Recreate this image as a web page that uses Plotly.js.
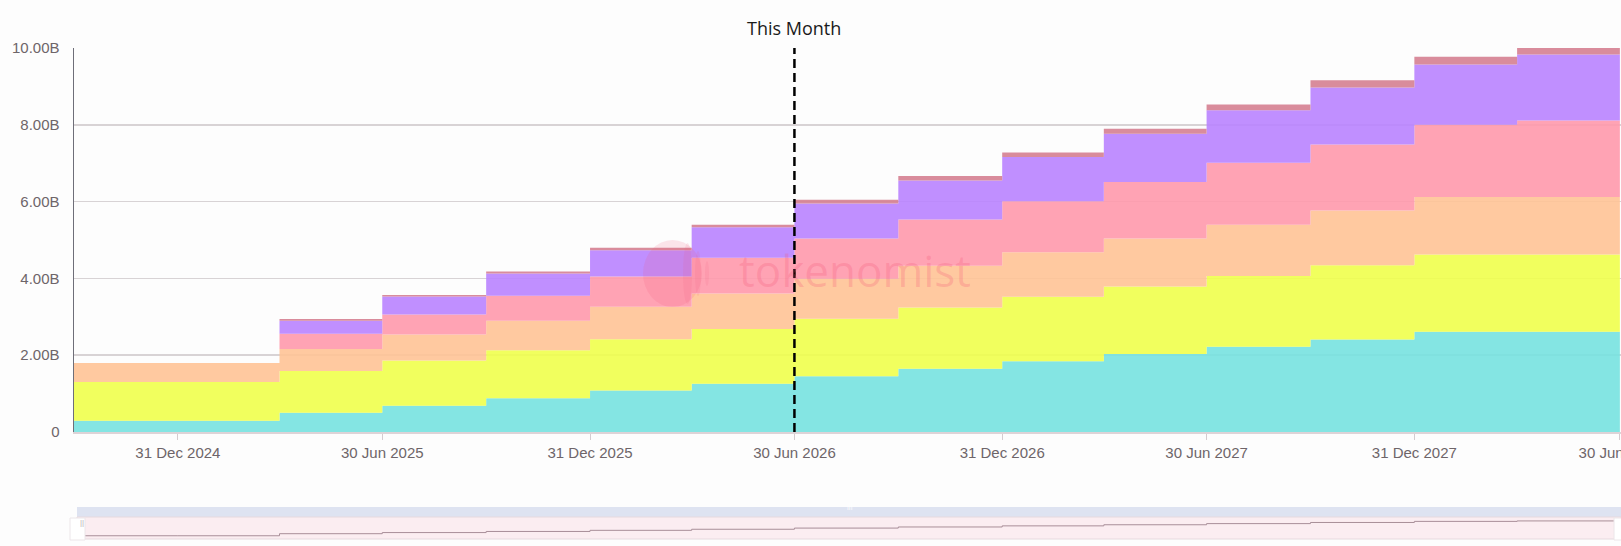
<!DOCTYPE html>
<html>
<head>
<meta charset="utf-8">
<script src="https://cdn.plot.ly/plotly-3.0.1.min.js"></script>
<style>
  html, body { margin: 0; padding: 0; background: #fdfdfd; }
  #chart { width: 1621px; height: 546px; }
</style>
</head>
<body>
<div id="chart"></div>
<script>
// ---- data (values in billions) ----
const dates = ['2024-09-30','2024-12-31','2025-03-31','2025-06-30','2025-09-30','2025-12-31',
               '2026-03-31','2026-06-30','2026-09-30','2026-12-31','2027-03-31','2027-06-30',
               '2027-09-30','2027-12-31','2028-03-31','2028-06-30'];
const seriesCyan   = [0.295,0.295,0.50,0.686,0.877,1.08,1.26,1.455,1.645,1.84,2.03,2.22,2.41,2.61,2.61,2.61];
const seriesYellow = [1.005,1.005,1.09,1.174,1.253,1.335,1.42,1.495,1.595,1.68,1.76,1.84,1.93,2.01,2.01,2.01];
const seriesOrange = [0.50,0.50,0.57,0.68,0.77,0.845,0.93,1.04,1.09,1.16,1.25,1.34,1.43,1.50,1.50,1.50];
const seriesPink   = [0,0,0.40,0.52,0.65,0.79,0.93,1.05,1.205,1.33,1.47,1.61,1.72,1.88,1.99,1.99];
const seriesPurple = [0,0,0.34,0.47,0.58,0.68,0.79,0.91,1.015,1.15,1.26,1.37,1.48,1.57,1.72,1.72];
const seriesRed    = [0,0,0.045,0.04,0.05,0.07,0.07,0.10,0.12,0.12,0.13,0.15,0.19,0.20,0.19,0.19];

const xTickVals = ['2024-12-31','2025-06-30','2025-12-31','2026-06-30','2026-12-31','2027-06-30','2027-12-31','2028-06-30'];
const xTickText = ['31 Dec 2024','30 Jun 2025','31 Dec 2025','30 Jun 2026','31 Dec 2026','30 Jun 2027','31 Dec 2027','30 Jun 2028'];
const yTickVals = [0,2,4,6,8,10];
const yTickText = ['0','2.00B','4.00B','6.00B','8.00B','10.00B'];
const thisMonth = '2026-06-30';
const thisMonthLabel = 'This Month';
const watermark = 'tokenomist';

// ---- styling ----
const series = [
  {y: seriesCyan,   color: 'rgba(119,226,224,0.9)'},
  {y: seriesYellow, color: 'rgba(239,255,77,0.9)'},
  {y: seriesOrange, color: 'rgba(255,195,150,0.9)'},
  {y: seriesPink,   color: 'rgba(255,153,172,0.9)'},
  {y: seriesPurple, color: 'rgba(185,131,255,0.9)'},
  {y: seriesRed,    color: 'rgba(213,127,145,0.9)'}
];
const B = 1e9;
const traces = series.map((s, i) => ({
  type: 'scatter', mode: 'lines', x: dates, y: s.y.map(v => v * B),
  stackgroup: 'one', line: {shape: 'hv', width: 0, color: s.color},
  fillcolor: s.color, hoverinfo: 'skip', showlegend: false,
  xaxis: 'x', yaxis: 'y'
}));
const total = dates.map((d, k) => series.reduce((a, s) => a + s.y[k], 0) * B);
traces.push({
  type: 'scatter', mode: 'lines', x: dates, y: total,
  line: {shape: 'hv', width: 1, color: '#a88e98'},
  hoverinfo: 'skip', showlegend: false, xaxis: 'x2', yaxis: 'y2'
});

const xRange = ['2024-09-30', '2028-07-01'];
const tickFont = {family: 'Liberation Sans, Arial, sans-serif', size: 15, color: '#6e6569'};
const px = v => (v - 74) / 1547;      // horizontal pixel -> paper
const py = v => (539 - v) / 491;      // vertical pixel -> paper

const layout = {
  width: 1621, height: 546,
  margin: {l: 74, r: 0, t: 48, b: 7},
  paper_bgcolor: '#fdfdfd', plot_bgcolor: '#fdfdfd',
  showlegend: false,
  xaxis: {
    type: 'date', range: xRange, domain: [0, 1], anchor: 'y',
    tickvals: xTickVals, ticktext: xTickText, tickfont: tickFont,
    ticklabeloverflow: 'allow',
    ticks: 'outside', ticklen: 6, tickcolor: '#d4ccd0', tickwidth: 1,
    showgrid: false, showline: true, linecolor: '#ddd3d7', linewidth: 2,
    zeroline: false, fixedrange: true
  },
  yaxis: {
    range: [0, 10 * B], domain: [0.2179, 1], anchor: 'x',
    tickvals: yTickVals.map(v => v * B), ticktext: yTickText, tickfont: tickFont,
    ticks: '', ticklabelstandoff: 10,
    showgrid: true, gridcolor: '#d8d3d5', gridwidth: 1.5,
    showline: true, linecolor: '#6e6e78', linewidth: 1.5,
    zeroline: false, fixedrange: true
  },
  xaxis2: {
    type: 'date', range: xRange, domain: [0, 1], anchor: 'y2',
    showticklabels: false, ticks: '', showgrid: false, showline: false, zeroline: false
  },
  yaxis2: {
    range: [0, 12.2 * B], domain: [0, 0.0448], anchor: 'x2',
    showticklabels: false, ticks: '', showgrid: false, showline: false, zeroline: false
  },
  shapes: [
    // slider background and top bar
    {type: 'rect', xref: 'paper', yref: 'paper', x0: px(77), x1: 1.0, y0: py(517), y1: py(507),
     fillcolor: '#dee3f1', line: {width: 0}, layer: 'below'},
    {type: 'rect', xref: 'paper', yref: 'paper', x0: px(77), x1: 1.0, y0: 0.0, y1: py(517),
     fillcolor: '#fbedf1', line: {width: 1, color: '#e6d9de'}, layer: 'below'},
    // slider handles
    {type: 'rect', xref: 'paper', yref: 'paper', x0: px(70), x1: px(85), y0: py(540), y1: py(518),
     fillcolor: '#ffffff', line: {width: 1, color: '#ece6e9'}, layer: 'above'},
    {type: 'rect', xref: 'paper', yref: 'paper', x0: px(1614), x1: px(1628), y0: py(540), y1: py(518),
     fillcolor: '#ffffff', line: {width: 1, color: '#ece6e9'}, layer: 'above'},
    // watermark logo
    {type: 'circle', xref: 'paper', yref: 'paper', x0: px(643), x1: px(702), y0: py(307), y1: py(240),
     fillcolor: 'rgba(240,90,120,0.15)', line: {width: 0}, layer: 'above'},
    {type: 'circle', xref: 'paper', yref: 'paper', x0: px(683), x1: px(692), y0: py(304), y1: py(243),
     fillcolor: 'rgba(240,90,120,0.12)', line: {width: 0}, layer: 'above'},
    {type: 'circle', xref: 'paper', yref: 'paper', x0: px(695), x1: px(701), y0: py(296), y1: py(251),
     fillcolor: 'rgba(240,90,120,0.12)', line: {width: 0}, layer: 'above'},
    {type: 'circle', xref: 'paper', yref: 'paper', x0: px(705), x1: px(709), y0: py(286), y1: py(261),
     fillcolor: 'rgba(240,90,120,0.12)', line: {width: 0}, layer: 'above'},
    // "This Month" line
    {type: 'line', xref: 'x', yref: 'y', x0: thisMonth, x1: thisMonth, y0: 0, y1: 10 * B,
     line: {color: '#000000', width: 2.5, dash: '9px,5px'}, layer: 'above'}
  ],
  annotations: [
    {xref: 'x', yref: 'paper', x: thisMonth, y: 1, yanchor: 'bottom', yshift: 6,
     text: thisMonthLabel, showarrow: false,
     font: {family: 'Open Sans, sans-serif', size: 18, color: '#1a1a1a'}},
    {xref: 'paper', yref: 'paper', x: px(737), y: py(270),
     xanchor: 'left', yanchor: 'middle', text: watermark, showarrow: false,
     font: {family: 'Open Sans, sans-serif', size: 44, color: 'rgba(245,90,120,0.26)'}},
    {xref: 'paper', yref: 'paper', x: px(850), y: py(512), text: '|||', showarrow: false,
     font: {family: 'Liberation Sans, sans-serif', size: 7, color: '#ffffff'}},
    {xref: 'paper', yref: 'paper', x: px(78), y: py(529), text: '||', showarrow: false,
     font: {family: 'Liberation Sans, sans-serif', size: 8, color: '#b8b0b4'}}
  ]
};

Plotly.newPlot('chart', traces, layout, {displayModeBar: false, staticPlot: true});
</script>
</body>
</html>
